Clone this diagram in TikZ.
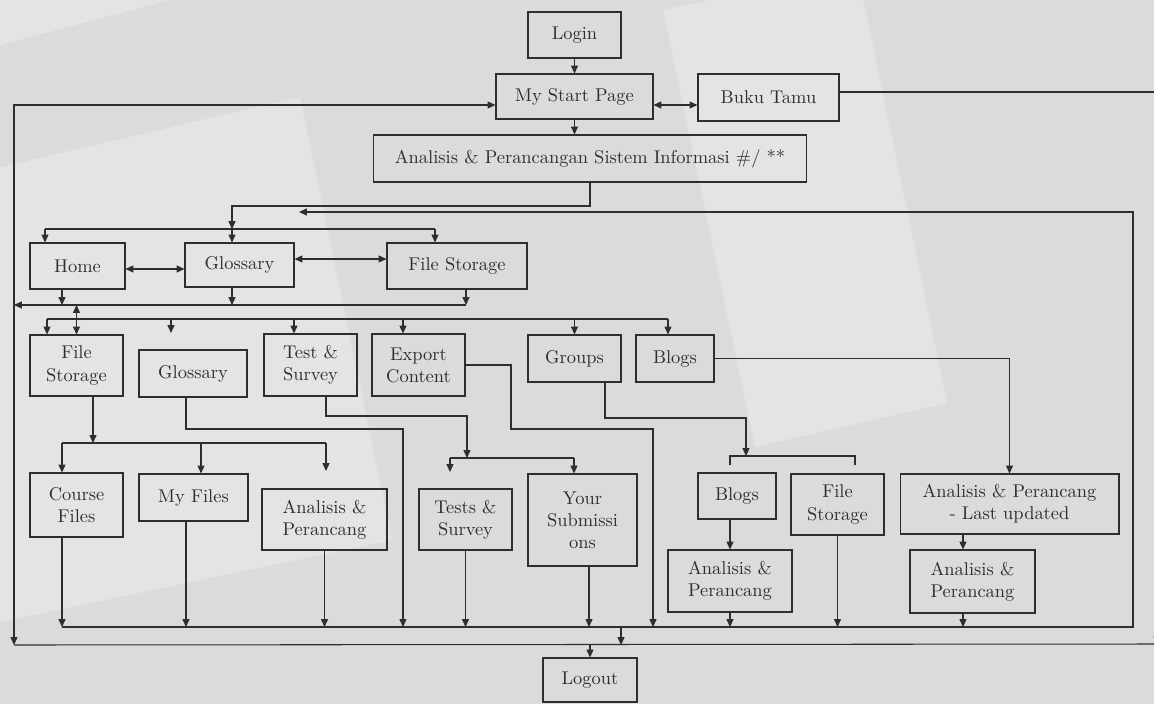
\documentclass[tikz,border=0pt]{standalone}
\usepackage{tikz}
\usetikzlibrary{arrows.meta}
\definecolor{bgfill}{HTML}{DBDBDB}
\definecolor{bglight}{HTML}{E4E4E4}
\definecolor{ink}{HTML}{2E2E2E}
\tikzset{
  box/.style={draw=ink, line width=0.6pt, inner sep=0pt, align=center,
    font=\fontsize{10.5}{12.6}\selectfont},
  arr/.style={-{Triangle[length=4.5pt,width=4pt]}},
  dbl/.style={{Triangle[length=4.5pt,width=4pt]}-{Triangle[length=4.5pt,width=4pt]}},
}

\begin{document}
\begin{tikzpicture}[x=0.02cm, y=-0.02cm, line width=0.6pt, color=ink]
\useasboundingbox (0,0) rectangle (1154,704);
\fill[bgfill] (0,0) rectangle (1154,704);
\fill[bglight] (0,0) -- (170,0) -- (0,45) -- cycle;
\fill[bglight] (-20,172) -- (300,97) -- (392,540) -- (0,622) -- cycle;
\fill[bglight] (663,10) -- (857,-31) -- (947,403) -- (755,447) -- cycle;

\node[box, minimum width=1.86cm, minimum height=0.92cm] (login) at (574.5,35) {Login};
\node[box, minimum width=3.14cm, minimum height=0.90cm] (start) at (574.5,96.5) {My Start Page};
\node[box, minimum width=2.82cm, minimum height=0.94cm] (buku) at (768.5,97.5) {Buku Tamu};
\node[box, minimum width=8.68cm, minimum height=0.94cm] (course) at (590,158.5) {Analisis \& Perancangan Sistem Informasi \#/ **};
\node[box, minimum width=1.90cm, minimum height=0.92cm] (home) at (77.5,266) {Home};
\node[box, minimum width=2.18cm, minimum height=0.88cm] (gloss) at (239.5,265) {Glossary};
\node[box, minimum width=2.80cm, minimum height=0.92cm] (files) at (457,266) {File Storage};
\node[box, minimum width=1.86cm, minimum height=1.22cm] (files2) at (76.5,365.5) {File\\Storage};
\node[box, minimum width=2.16cm, minimum height=0.94cm] (gloss2) at (193,373.5) {Glossary};
\node[box, minimum width=1.86cm, minimum height=1.24cm] (test) at (310.5,365) {Test \&\\Survey};
\node[box, minimum width=1.86cm, minimum height=1.24cm] (export) at (418.5,365) {Export\\Content};
\node[box, minimum width=1.86cm, minimum height=0.94cm] (groups) at (574.5,358.5) {Groups};
\node[box, minimum width=1.56cm, minimum height=0.94cm] (blogs) at (675,358.5) {Blogs};
\node[box, minimum width=1.86cm, minimum height=1.28cm] (cfiles) at (76.5,505) {Course\\Files};
\node[box, minimum width=2.18cm, minimum height=0.94cm] (myfiles) at (193.5,497.5) {My Files};
\node[box, minimum width=2.50cm, minimum height=1.22cm] (apfiles) at (324.5,519.5) {Analisis \&\\Perancang};
\node[box, minimum width=1.86cm, minimum height=1.22cm] (tests) at (465.5,519.5) {Tests \&\\Survey};
\node[box, minimum width=2.18cm, minimum height=1.84cm] (submit) at (582.5,520) {Your\\Submissi\\ons};
\node[box, minimum width=1.56cm, minimum height=0.92cm] (blogs3) at (737,496) {Blogs};
\node[box, minimum width=1.86cm, minimum height=1.22cm] (files3) at (837.5,504.5) {File\\Storage};
\node[box, minimum width=4.38cm, minimum height=1.20cm] (last) at (1009.5,504) {Analisis \& Perancang\\- Last updated};
\node[box, minimum width=2.48cm, minimum height=1.24cm] (apblog) at (730,581) {Analisis \&\\Perancang};
\node[box, minimum width=2.50cm, minimum height=1.26cm] (aplast) at (972.5,581.5) {Analisis \&\\Perancang};
\node[box, minimum width=1.88cm, minimum height=0.88cm] (logout) at (590,680) {Logout};

\coordinate (sb) at (0,105);
\coordinate (bk) at (0,92);
\coordinate (rb) at (1157,644);
\coordinate (lb) at (14,645);
\coordinate (ret) at (14,305);
\coordinate (b1) at (232,206);
\coordinate (tl) at (45,229);
\coordinate (tr) at (435,229);
\coordinate (rt) at (299,212);
\coordinate (hg) at (0,269);
\coordinate (gf) at (0,259);
\coordinate (ah) at (62,305);
\coordinate (ae) at (466,305);
\coordinate (bl) at (47,319);
\coordinate (br) at (668,319);
\coordinate (bt) at (294,319);
\coordinate (be) at (403,319);
\coordinate (bg) at (171,319);
\coordinate (bgend) at (171,333);
\coordinate (f2) at (93,443);
\coordinate (cl3) at (62,443);
\coordinate (cm3) at (201,443);
\coordinate (cr3) at (326,443);
\coordinate (crend) at (326,471);
\coordinate (g2a) at (186,429);
\coordinate (g2b) at (403,627);
\coordinate (t1) at (326,416);
\coordinate (t2) at (467,458);
\coordinate (dl) at (450,458);
\coordinate (dr) at (574,458);
\coordinate (dlend) at (450,472);
\coordinate (e1) at (511,429);
\coordinate (e2) at (653,627);
\coordinate (gr1) at (605,418);
\coordinate (gr2) at (746,456);
\coordinate (el) at (730,465);
\coordinate (er) at (855,465);
\coordinate (cl) at (62,627);
\coordinate (cr) at (1133,627);
\coordinate (m4) at (186,627);
\coordinate (s4) at (589,627);
\coordinate (l4) at (963,627);
\coordinate (c4) at (621,627);
\coordinate (lo) at (590,644);

% top part
\draw[arr] (login) -- (start);
\draw[dbl] (start.east |- sb) -- (buku.west |- sb);
\draw[arr] (buku.east |- bk) -| (rb);
\draw (lb) -- (rb);
\draw[arr] (ret) |- (start.west |- sb);
\draw[arr] (ret) -- (lb);
\draw[arr] (start) -- (start.south |- course.north);
\draw[arr] (course.south) |- (b1) -- (b1 |- tl);
\draw (tl) -- (tr);
\draw[arr] (tl) -- (tl |- home.north);
\draw[arr] (b1 |- tl) -- (b1 |- gloss.north);
\draw[arr] (tr) -- (tr |- files.north);
\draw[arr] (cl) -- (cr) |- (rt);

% menu row
\draw[dbl] (home.east |- hg) -- (gloss.west |- hg);
\draw[dbl] (gloss.east |- gf) -- (files.west |- gf);
\draw[arr] (home.south -| ah) -- (ah);
\draw[arr] (b1 |- gloss.south) -- (b1 |- ret);
\draw[arr] (files.south -| ae) -- (ae);
\draw[arr] (ae) -- (ret);
\draw[dbl] (files2.north |- ret) -- (files2.north);

% tools row
\draw (bl) -- (br);
\draw[arr] (bl) -- (bl |- files2.north);
\draw[arr] (bg) -- (bgend);
\draw[arr] (bt) -- (bt |- test.north);
\draw[arr] (be) -- (be |- export.north);
\draw[arr] (groups.north |- bl) -- (groups.north);
\draw[arr] (br) -- (br |- blogs.north);

\draw[arr] (files2.south -| f2) -- (f2);
\draw (cl3) -- (cr3);
\draw[arr] (cl3) -- (cl3 |- cfiles.north);
\draw[arr] (cm3) -- (cm3 |- myfiles.north);
\draw[arr] (cr3) -- (crend);
\draw[arr] (gloss2.south -| g2a) -- (g2a) -| (g2b);
\draw[arr] (test.south -| t1) -- (t1) -| (t2);
\draw (dl) -- (dr);
\draw[arr] (dl) -- (dlend);
\draw[arr] (dr) -- (dr |- submit.north);
\draw[arr] (export.east) -| (e1) -| (e2);
\draw[arr] (groups.south -| gr1) -- (gr1) -| (gr2);
\draw (el) |- (gr2) -| (er);
\draw[arr] (blogs.east) -| (last.north);

% to logout
\draw[arr] (cfiles.south -| cl) -- (cl);
\draw[arr] (myfiles.south -| m4) -- (m4);
\draw[arr] (apfiles.south) -- (apfiles.south |- cl);
\draw[arr] (tests.south) -- (tests.south |- cl);
\draw[arr] (submit.south -| s4) -- (s4);
\draw[arr] (blogs3.south -| apblog.north) -- (apblog.north);
\draw[arr] (apblog.south) -- (apblog.south |- cl);
\draw[arr] (files3.south) -- (files3.south |- cl);
\draw[arr] (last.south -| l4) -- (l4 |- aplast.north);
\draw[arr] (aplast.south -| l4) -- (l4);
\draw[arr] (c4) -- (c4 |- lb);
\draw[arr] (lo) -- (logout);
\end{tikzpicture}
\end{document}
